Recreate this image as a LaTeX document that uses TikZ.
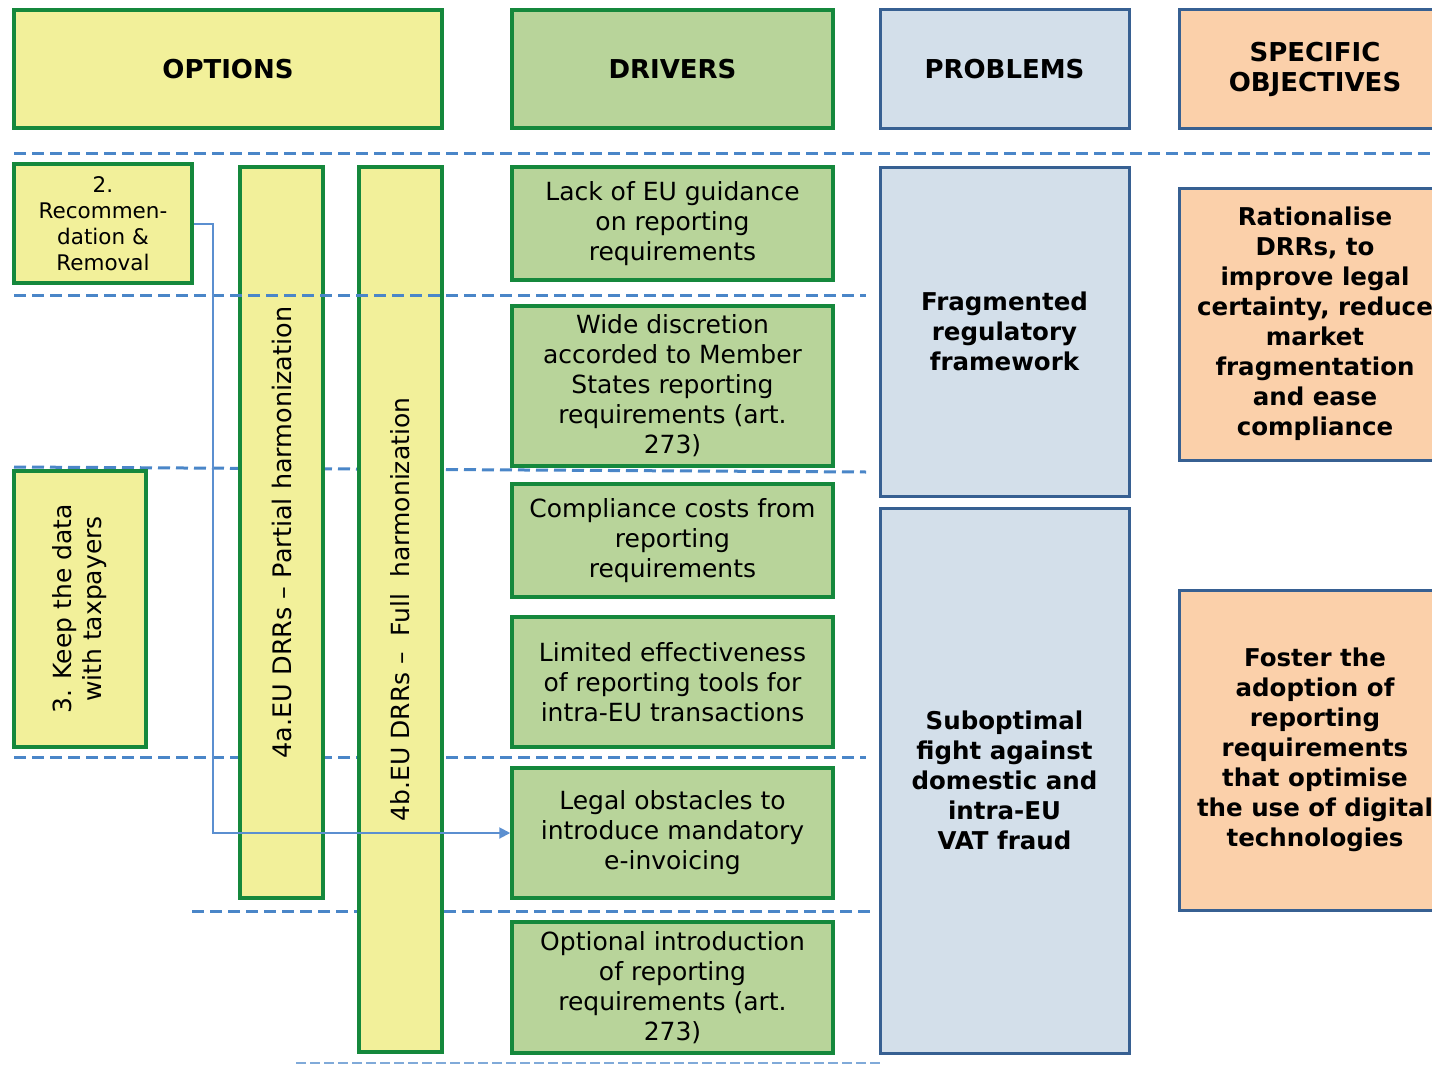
\documentclass[tikz,border=0pt]{standalone}
\usepackage{fontspec}
\setmainfont{DejaVu Sans}
\usetikzlibrary{arrows.meta}

\definecolor{optyellow}{HTML}{F2F09A}
\definecolor{drvgreen}{HTML}{B8D49A}
\definecolor{boxgreen}{HTML}{15883C}
\definecolor{probfill}{HTML}{D3DFEA}
\definecolor{probblue}{HTML}{376092}
\definecolor{objfill}{HTML}{FBD0AA}
\definecolor{sepblue}{HTML}{4A86C8}
\definecolor{linkblue}{HTML}{5B8FD0}

\begin{document}
\begin{tikzpicture}[x=1pt,y=-1pt,
  box/.style={draw, line width=3.5pt, align=center, inner sep=0pt,
    font=\fontsize{25}{30}\selectfont},
  optbox/.style={box, draw=boxgreen, fill=optyellow},
  drvbox/.style={box, draw=boxgreen, fill=drvgreen},
  probbox/.style={box, line width=3pt, draw=probblue, fill=probfill,
    font=\fontsize{24.5}{30}\selectfont\bfseries},
  objbox/.style={box, line width=3pt, draw=probblue, fill=objfill,
    font=\fontsize{24.5}{30}\selectfont\bfseries},
  headbox/.style={font=\fontsize{26}{32}\selectfont\bfseries},
  sep/.style={draw=sepblue, line width=3pt, dash pattern=on 12pt off 6pt},
  thinsep/.style={draw=sepblue!70, line width=1.5pt, dash pattern=on 10pt off 4pt},
  link/.style={draw=linkblue, line width=2pt, -{Triangle[length=11pt,width=11pt]}}
]
\useasboundingbox (0,0) rectangle (1432,1065);
\clip (0,0) rectangle (1432,1065);

% horizontal separators running behind the option columns
\draw[sep] (14,153) -- (1432,153);
\draw[sep] (14,467) -- (866,472);
\draw[sep] (14,757) -- (866,757);
\draw[sep] (192,911) -- (875,911);
\draw[thinsep] (296,1063) -- (880,1063);

% column headers
\node[optbox, headbox, minimum width=428, minimum height=118] (hopt) at (228,69) {OPTIONS};
\node[drvbox, headbox, minimum width=321, minimum height=118] (hdrv) at (672.5,69) {DRIVERS};
\node[probbox, headbox, minimum width=249, minimum height=118] (hprob) at (1004.5,69) {PROBLEMS};
\node[objbox, minimum width=272, minimum height=118, font=\fontsize{26}{30}\selectfont\bfseries] (hobj) at (1315,69) {SPECIFIC\\OBJECTIVES};

% options
\node[optbox, minimum width=178, minimum height=119, font=\fontsize{21.5}{26}\selectfont] (o2) at (103,223.5)
  {2.\\Recommen-\\dation \&\\Removal};
\node[optbox, minimum width=132, minimum height=276] (o3) at (80,609) {};
\node[rotate=90, align=center, font=\fontsize{25}{30}\selectfont] (o3t) at (o3.center)
  {3. Keep the data\\with taxpayers};
\node[optbox, minimum width=83, minimum height=731] (o4a) at (281.5,532.5) {};
\node[rotate=90, font=\fontsize{25.5}{30}\selectfont] (o4at) at (o4a.center)
  {4a.EU DRRs – Partial harmonization};
\node[optbox, minimum width=83, minimum height=885] (o4b) at (400.5,609.5) {};
\node[rotate=90, font=\fontsize{25}{30}\selectfont] (o4bt) at (o4b.center)
  {4b.EU DRRs –\ \ Full\ \ harmonization};

% separator drawn across the option columns
\draw[sep] (14,295) -- (866,295);

% drivers
\node[drvbox, minimum width=321, minimum height=113] (d1) at (672.5,223.5)
  {Lack of EU guidance\\on reporting\\requirements};
\node[drvbox, minimum width=321, minimum height=160] (d2) at (672.5,386)
  {Wide discretion\\accorded to Member\\States reporting\\requirements (art.\\273)};
\node[drvbox, minimum width=321, minimum height=113] (d3) at (672.5,540.5)
  {Compliance costs from\\reporting\\requirements};
\node[drvbox, minimum width=321, minimum height=130] (d4) at (672.5,682)
  {Limited effectiveness\\of reporting tools for\\intra-EU transactions};
\node[drvbox, minimum width=321, minimum height=130] (d5) at (672.5,833)
  {Legal obstacles to\\introduce mandatory\\e-invoicing};
\node[drvbox, minimum width=321, minimum height=131] (d6) at (672.5,987.5)
  {Optional introduction\\of reporting\\requirements (art.\\273)};

% problems
\node[probbox, minimum width=249, minimum height=329] (p1) at (1004.5,331.5)
  {Fragmented\\regulatory\\framework};
\node[probbox, minimum width=249, minimum height=545] (p2) at (1004.5,780.5)
  {Suboptimal\\fight against\\domestic and\\intra-EU\\VAT fraud};

% specific objectives
\node[objbox, minimum width=272, minimum height=272] (s1) at (1315,324)
  {Rationalise\\DRRs, to\\improve legal\\certainty, reduce\\market\\fragmentation\\and ease\\compliance};
\node[objbox, minimum width=272, minimum height=320] (s2) at (1315,750)
  {Foster the\\adoption of\\reporting\\requirements\\that optimise\\the use of digital\\technologies};

% link from option 2 to the e-invoicing driver
\draw[link] (o2.east) -- ++(19,0) |- (d5.west);
\end{tikzpicture}
\end{document}
